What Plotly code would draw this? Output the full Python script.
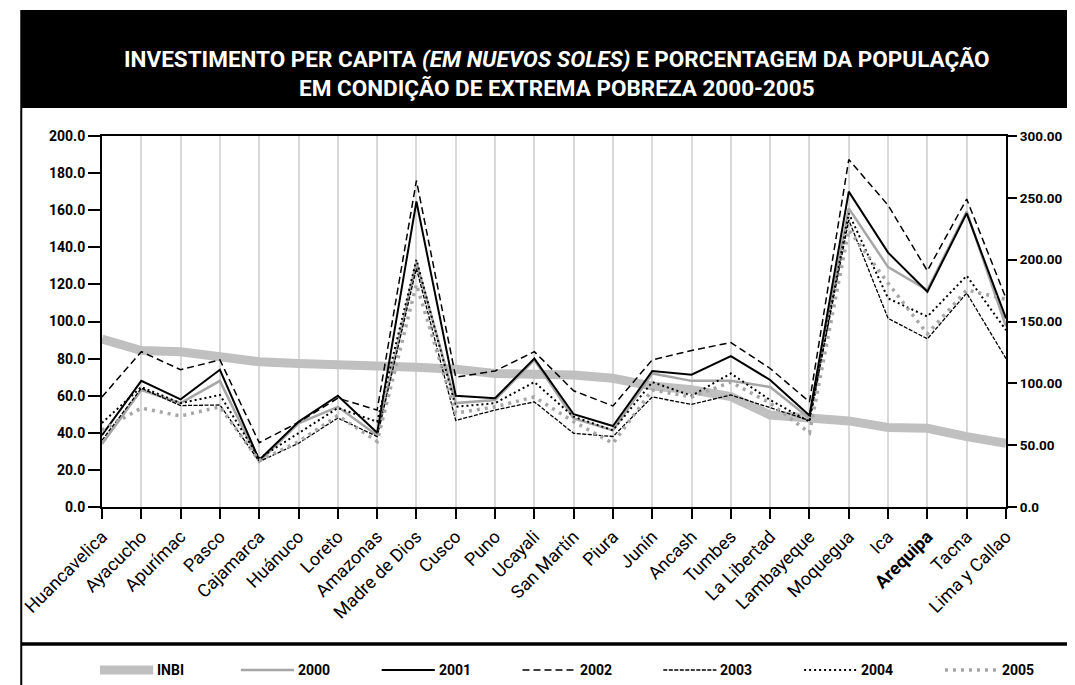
import plotly.graph_objects as go

# The page body adds an 8px margin, so the figure is drawn 8px smaller and all
# page positions below are shifted by OFF to land where intended.
OFF = 8
W, H = 1075 - OFF, 685 - OFF
L, R, T, B = 91, 1009, 136, 507  # plot area in page px

categories = ["Huancavelica", "Ayacucho", "Apurímac", "Pasco", "Cajamarca", "Huánuco",
              "Loreto", "Amazonas", "Madre de Dios", "Cusco", "Puno", "Ucayali",
              "San Martín", "Piura", "Junín", "Ancash", "Tumbes", "La Libertad",
              "Lambayeque", "Moquegua", "Ica", "Arequipa", "Tacna", "Lima y Callao"]

inbi = [90.6, 84.3, 83.7, 80.7, 78.3, 77.4, 77.1, 76.4, 75.3, 74.2, 72.0, 71.5,
        71.2, 69.4, 65.2, 63.2, 59.5, 49.6, 47.8, 46.4, 42.9, 42.4, 37.9, 34.3]
y2000 = [51, 94.6, 84, 102, 36.7, 67.7, 81, 58, 198, 84, 86.5, 119,
         71.7, 62, 108, 102, 102, 97, 71.7, 241.5, 194, 175.5, 239, 146]
y2001 = [58, 102, 87, 111, 38, 69, 90, 60, 247, 90, 88, 120,
         75, 65.5, 110, 107, 122, 102.7, 74, 255, 205.7, 174, 237.5, 152.5]
y2002 = [89, 125.6, 111, 119, 52, 68.5, 88, 78.4, 264, 105, 110, 125.6,
         94, 81.7, 119, 126.5, 133, 112, 85, 281, 244, 191, 249, 168.7]
y2003 = [54, 96, 82, 82.5, 36.7, 51.5, 72, 57, 193, 70, 78.4, 85,
         59.6, 57, 89, 83, 90.6, 80, 70, 232, 152.5, 136, 173, 120]
y2004 = [68, 97, 84, 90.6, 39.4, 59.6, 80, 69, 200, 81, 84, 101,
         73, 62, 101, 90, 108, 86.5, 69, 237.5, 168.7, 154, 187, 143]
y2005 = [62, 80, 73.6, 81, 37.5, 52.8, 74, 53, 180, 76, 81, 89,
         69, 51.5, 94.6, 89, 101, 84, 60, 224, 181, 140, 175.5, 168]

left_ticks = [0, 20, 40, 60, 80, 100, 120, 140, 160, 180, 200]
left_labels = ["0.0", "20.0", "40.0", "60.0", "80.0", "100.0", "120.0", "140.0", "160.0", "180.0", "200.0"]
right_ticks = [0, 50, 100, 150, 200, 250, 300]
right_labels = ["0.0", "50.00", "100.00", "150.00", "200.00", "250.00", "300.00"]

FONT = "Roboto, Liberation Sans, Arial, sans-serif"
x = list(range(len(categories)))
ticktext = [f"<b>{c}</b>" if c == "Arequipa" else c for c in categories]


def px(X):
    return (X - L) / (R - L)


def py(Y):
    return (B - Y) / (B - T)


styles = {
    "INBI": dict(color="#c0c0c0", width=9),
    "2000": dict(color="#a6a6a6", width=2.5),
    "2001": dict(color="#000000", width=2),
    "2002": dict(color="#000000", width=1.5, dash="7px,4px"),
    "2003": dict(color="#000000", width=1.3, dash="4px,1.5px"),
    "2004": dict(color="#000000", width=2, dash="2px,3px"),
    "2005": dict(color="#a6a6a6", width=3.5, dash="3px,5px"),
}

fig = go.Figure()
fig.add_trace(go.Scatter(x=x, y=inbi, name="INBI", mode="lines",
                         line=styles["INBI"], yaxis="y"))
for name, vals in [("2000", y2000), ("2001", y2001), ("2002", y2002),
                   ("2003", y2003), ("2004", y2004), ("2005", y2005)]:
    fig.add_trace(go.Scatter(x=x, y=vals, name=name, mode="lines",
                             line=styles[name], yaxis="y2"))

shapes = [
    dict(type="rect", xref="paper", yref="paper", x0=px(8), x1=px(1080), y0=py(108), y1=py(10),
         fillcolor="black", line=dict(width=0), layer="below"),
    dict(type="line", xref="paper", yref="paper", x0=px(9), x1=px(9), y0=py(108), y1=py(690),
         line=dict(color="black", width=2)),
    dict(type="line", xref="paper", yref="paper", x0=px(9), x1=px(1080), y0=py(644), y1=py(644),
         line=dict(color="black", width=3.5)),
]

annotations = [
    dict(xref="paper", yref="paper", x=px(553), y=py(73), xanchor="center", yanchor="middle",
         showarrow=False, align="center",
         text="<b>INVESTIMENTO PER CAPITA <i>(EM NUEVOS SOLES)</i> E PORCENTAGEM DA POPULAÇÃO<br>EM CONDIÇÃO DE EXTREMA POBREZA 2000-2005</b>",
         font=dict(family=FONT, size=22.5, color="white")),
]

legend_names = ["INBI", "2000", "2001", "2002", "2003", "2004", "2005"]
for i, name in enumerate(legend_names):
    x0 = 89 + i * 143
    shapes.append(dict(type="line", xref="paper", yref="paper",
                       x0=px(x0), x1=px(x0 + 54), y0=py(670), y1=py(670),
                       line=styles[name]))
    annotations.append(dict(xref="paper", yref="paper", x=px(x0 + 56), y=py(670),
                            xanchor="left", yanchor="middle", showarrow=False,
                            text=f"<b>{name}</b>", font=dict(family=FONT, size=14, color="black")))

fig.update_layout(
    width=W, height=H,
    margin=dict(l=L - OFF, r=W - (R - OFF), t=T - OFF, b=H - (B - OFF)),
    paper_bgcolor="white", plot_bgcolor="white",
    font=dict(family=FONT, color="black"),
    showlegend=False,
    xaxis=dict(range=[0, 23], tickvals=x, ticktext=ticktext, tickangle=-45,
               showgrid=True, gridcolor="#d9d9d9", gridwidth=2,
               showline=True, linecolor="black", linewidth=2, mirror=True,
               ticks="outside", ticklen=10, tickwidth=2, tickcolor="black",
               tickfont=dict(size=18, family=FONT), zeroline=False),
    yaxis=dict(range=[0, 200], tickvals=left_ticks, ticktext=[f"<b>{t}</b>" for t in left_labels],
               showgrid=False, zeroline=False, showline=True, linecolor="black", linewidth=2,
               ticks="outside", ticklen=12, tickwidth=2, tickcolor="black",
               tickfont=dict(size=14, family=FONT)),
    yaxis2=dict(range=[0, 300], tickvals=right_ticks, ticktext=[f"<b>{t}</b>" for t in right_labels],
                overlaying="y", side="right", showgrid=False, zeroline=False, showline=True,
                linecolor="black", linewidth=2, ticks="outside", ticklen=9, tickwidth=2,
                tickcolor="black", tickfont=dict(size=13.5, family=FONT)),
    shapes=shapes, annotations=annotations,
)

fig.write_html("out.html")
